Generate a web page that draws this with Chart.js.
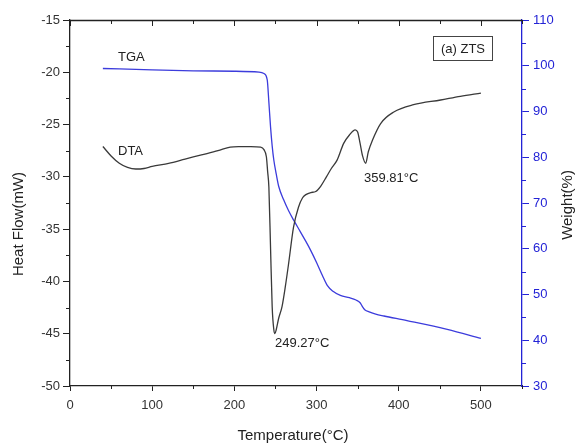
<!DOCTYPE html>
<html>
<head>
<meta charset="utf-8">
<script src="https://cdn.jsdelivr.net/npm/chart.js@4.4.0/dist/chart.umd.min.js"></script>
<style>
    html, body { margin: 0; padding: 0; background: #fff; }
    #wrap { width: 577px; height: 444px; }
</style>
</head>
<body>
<div id="wrap"><canvas id="taChart" width="577" height="444"></canvas></div>
<script>
// DTA curve (left axis, heat flow in mW)
const dtaTemp = [40, 50, 60, 70, 80, 90, 100, 120, 140, 160, 180, 195, 205, 220, 232, 236, 239, 240.5, 242, 244, 246, 248, 249.3, 251, 254, 258, 262, 266, 272, 278, 283, 287, 293, 299, 305, 312, 318, 325, 333, 340, 347, 350, 353, 356, 359.8, 363, 368, 378, 394, 418, 451, 475, 500];
const dtaHeat = [-27.1, -28.0, -28.7, -29.1, -29.25, -29.2, -29.0, -28.7, -28.3, -27.9, -27.5, -27.15, -27.1, -27.1, -27.15, -27.4, -28.1, -29.5, -31.0, -36.7, -42.4, -44.6, -45.0, -44.6, -43.5, -42.4, -40.5, -38.3, -34.8, -32.9, -32.0, -31.7, -31.5, -31.4, -30.9, -30.0, -29.2, -28.4, -26.8, -26.0, -25.5, -25.7, -26.8, -28.0, -28.7, -27.6, -26.5, -24.9, -23.8, -23.1, -22.65, -22.3, -22.0];

// TGA curve (right axis, weight %)
const tgaTemp = [40, 100, 150, 200, 230, 236, 240, 242, 244, 246, 248, 251, 254, 260, 266, 272, 280, 287, 293, 300, 307, 313, 320, 329, 340, 348, 353, 356, 359, 364, 372, 382, 410, 459, 500];
const tgaWeight = [99.4, 99.1, 98.9, 98.8, 98.6, 98.3, 96.9, 92.0, 86.7, 82.5, 79.4, 76.3, 73.6, 70.7, 68.3, 66.3, 63.8, 61.6, 59.6, 57.0, 54.2, 52.0, 50.7, 49.8, 49.3, 48.8, 48.2, 47.3, 46.6, 46.2, 45.7, 45.3, 44.3, 42.4, 40.4];

// axis ticks
const tempTicks = [0, 100, 200, 300, 400, 500];
const heatTicks = [-50, -45, -40, -35, -30, -25, -20, -15];
const weightTicks = [30, 40, 50, 60, 70, 80, 90, 100, 110];

const BLUE = "#2323d6";
const FONT = "'Liberation Sans', Arial, sans-serif";

const pairs = (xs, ys) => xs.map((x, i) => ({ x: x, y: ys[i] }));
const keepTicks = list => scale => { scale.ticks = list.map(v => ({ value: v })); };

// frame, minor ticks and text labels
const extras = {
    id: "extras",
    afterDraw(chart) {
        const { ctx, chartArea: a, scales } = chart;
        const xs = scales.x, yl = scales.yHeat, yr = scales.yWeight;
        ctx.save();
        ctx.lineWidth = 1.3;
        ctx.strokeStyle = "#222";
        ctx.beginPath();
        ctx.moveTo(a.left, a.top + 0.5);
        ctx.lineTo(a.right, a.top + 0.5);
        ctx.stroke();

        ctx.lineWidth = 1;
        // top ticks (inward) and bottom minor ticks
        for (let v = 0; v <= 550; v += 50) {
            const px = Math.round(xs.getPixelForValue(v)) + 0.5;
            const major = v % 100 === 0;
            ctx.beginPath();
            ctx.moveTo(px, a.top);
            ctx.lineTo(px, a.top + (major ? 6 : 4));
            if (!major) {
                ctx.moveTo(px, a.bottom);
                ctx.lineTo(px, a.bottom + 3);
            }
            ctx.stroke();
        }
        // left minor ticks
        for (let v = -47.5; v < -15; v += 5) {
            const py = Math.round(yl.getPixelForValue(v)) + 0.5;
            ctx.beginPath();
            ctx.moveTo(a.left, py);
            ctx.lineTo(a.left - 4, py);
            ctx.stroke();
        }
        // right minor ticks
        ctx.strokeStyle = BLUE;
        for (let v = 35; v < 110; v += 10) {
            const py = Math.round(yr.getPixelForValue(v)) + 0.5;
            ctx.beginPath();
            ctx.moveTo(a.right, py);
            ctx.lineTo(a.right + 4, py);
            ctx.stroke();
        }

        // axis titles
        ctx.fillStyle = "#222";
        ctx.font = "15px " + FONT;
        ctx.textAlign = "center";
        ctx.textBaseline = "middle";
        ctx.fillText("Temperature(°C)", 293, 436);
        ctx.save();
        ctx.translate(19, 224);
        ctx.rotate(-Math.PI / 2);
        ctx.fillText("Heat Flow(mW)", 0, 0);
        ctx.restore();
        ctx.save();
        ctx.translate(568, 205);
        ctx.rotate(-Math.PI / 2);
        ctx.fillText("Weight(%)", 0, 0);
        ctx.restore();

        // annotations
        ctx.font = "13px " + FONT;
        ctx.textAlign = "left";
        ctx.fillText("TGA", 118, 57);
        ctx.fillText("DTA", 118, 151);
        ctx.fillText("249.27°C", 275, 343);
        ctx.fillText("359.81°C", 364, 178);
        ctx.strokeStyle = "#444";
        ctx.strokeRect(433.5, 36.5, 59, 24);
        ctx.textAlign = "center";
        ctx.fillText("(a) ZTS", 463, 49);
        ctx.restore();
    }
};

document.addEventListener("DOMContentLoaded", () => {
    const ctx = document.getElementById("taChart").getContext("2d");
    new Chart(ctx, {
        type: "line",
        data: {
            datasets: [{
                label: "DTA",
                data: pairs(dtaTemp, dtaHeat),
                yAxisID: "yHeat",
                borderColor: "#3a3a3a",
                borderWidth: 1.3,
                pointRadius: 0,
                cubicInterpolationMode: "monotone"
            }, {
                label: "TGA",
                data: pairs(tgaTemp, tgaWeight),
                yAxisID: "yWeight",
                borderColor: "#3c3cdc",
                borderWidth: 1.3,
                pointRadius: 0,
                cubicInterpolationMode: "monotone"
            }]
        },
        options: {
            responsive: false,
            animation: false,
            layout: { padding: { top: 20, left: 0, right: 0, bottom: 0 } },
            plugins: { legend: { display: false }, tooltip: { enabled: false } },
            scales: {
                x: {
                    type: "linear",
                    min: 0,
                    max: 550,
                    afterBuildTicks: keepTicks(tempTicks),
                    afterFit: s => { s.height = 58; },
                    grid: { drawOnChartArea: false, tickLength: 5, color: "#222", tickWidth: 1 },
                    border: { color: "#222", width: 1.3 },
                    ticks: { color: "#333", padding: 7, maxRotation: 0, font: { family: FONT, size: 13 } }
                },
                yHeat: {
                    type: "linear",
                    position: "left",
                    min: -50,
                    max: -15,
                    afterBuildTicks: keepTicks(heatTicks),
                    afterFit: s => { s.width = 70; },
                    grid: { drawOnChartArea: false, tickLength: 7, color: "#222" },
                    border: { color: "#222", width: 1.3 },
                    ticks: { color: "#333", padding: 3, font: { family: FONT, size: 13 } }
                },
                yWeight: {
                    type: "linear",
                    position: "right",
                    min: 30,
                    max: 110,
                    afterBuildTicks: keepTicks(weightTicks),
                    afterFit: s => { s.width = 55; },
                    grid: { drawOnChartArea: false, tickLength: 7, color: BLUE },
                    border: { color: BLUE, width: 1.3 },
                    ticks: { color: BLUE, padding: 4, font: { family: FONT, size: 13 } }
                }
            }
        },
        plugins: [extras]
    });
});
</script>
</body>
</html>
